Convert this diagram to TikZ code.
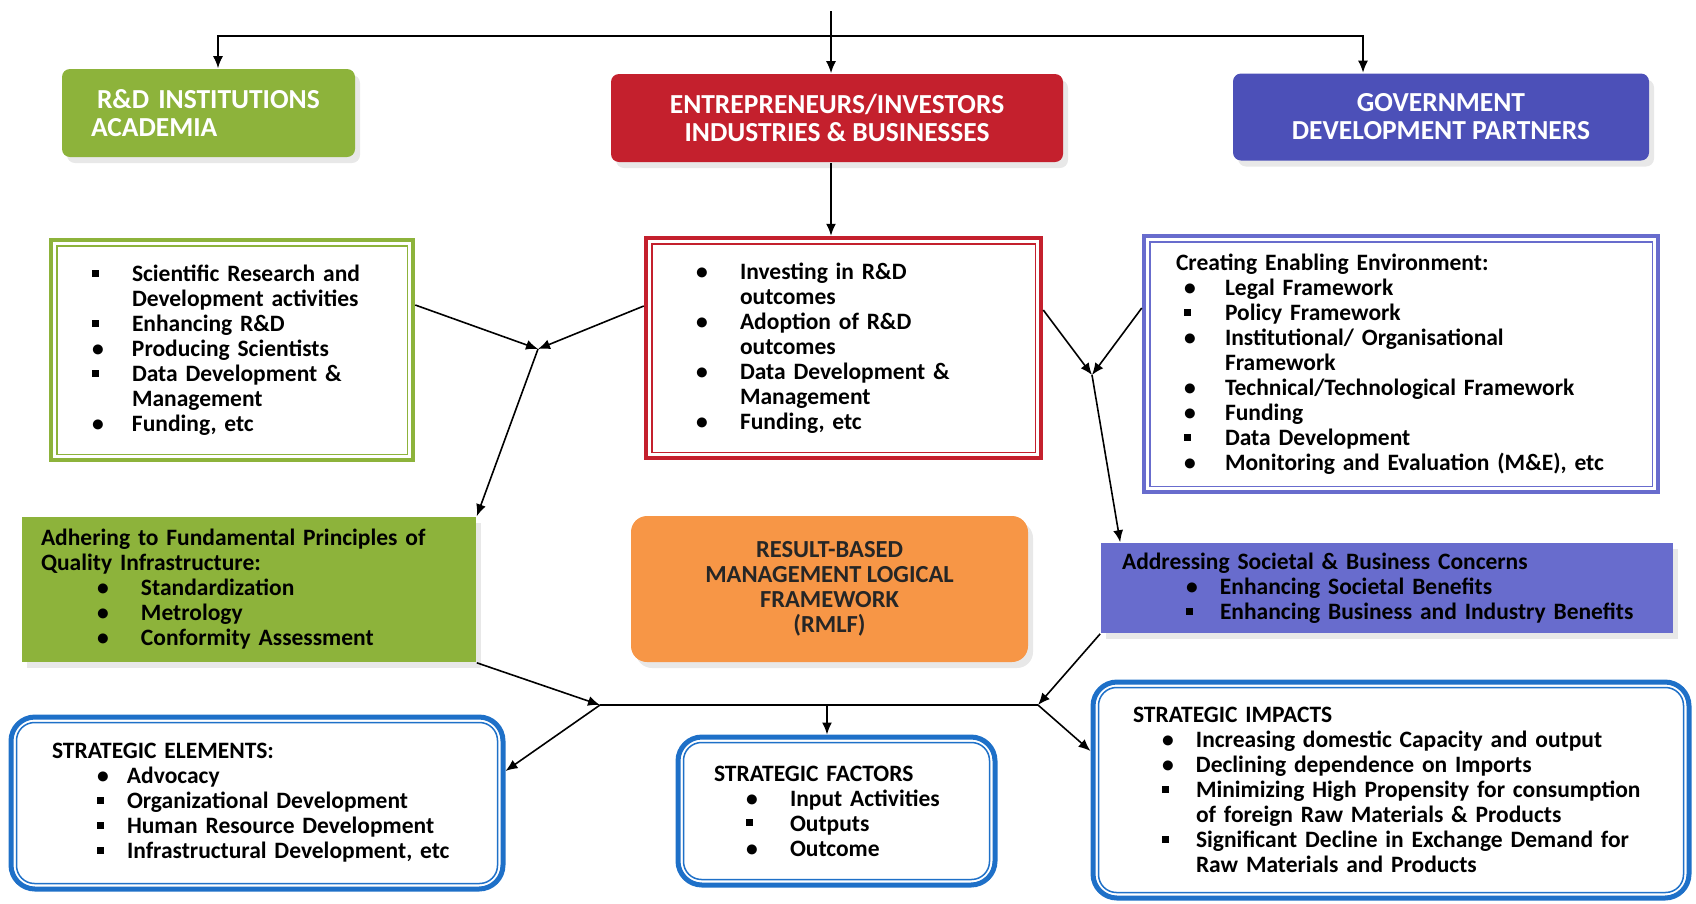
\documentclass[tikz,border=0pt]{standalone}
\usepackage{fontspec}
\setmainfont{Carlito}
\usetikzlibrary{arrows.meta,shadows}
\setlength{\parindent}{0pt}

\definecolor{rdgreen}{RGB}{141,179,59}
\definecolor{entred}{RGB}{196,32,45}
\definecolor{govblue}{RGB}{76,80,184}
\definecolor{socblue}{RGB}{104,108,205}
\definecolor{rbmorange}{RGB}{247,150,70}
\definecolor{stratblue}{RGB}{30,112,200}

\newcommand{\bodyfont}{\fontsize{23.5}{25}\selectfont\bfseries}
\newcommand{\headfont}{\fontsize{27.5}{28}\selectfont\bfseries}
\newcommand{\rmlffont}{\fontsize{24.5}{25}\selectfont\bfseries}
\newlength{\bind}
\newlength{\bgap}
\newcommand{\bsq}{\raisebox{.2em}{\rule{.3em}{.3em}}}
\newcommand{\bci}{\textbullet}
\newcommand{\itm}[2][\bci]{\hspace*{\bind}\makebox[\bgap][l]{#1}\mbox{#2}}

\tikzset{
    shade/.style={drop shadow={shadow xshift=5pt, shadow yshift=-6pt, fill=black!18}},
    headbox/.style={rounded corners=8pt, text=white, font=\headfont, inner sep=0pt, shade},
    listbox/.style={draw=#1, line width=4.5pt, fill=white, align=left, font=\bodyfont, inner ysep=0pt},
    fillbox/.style={fill=#1, align=left, font=\bodyfont, inner ysep=0pt, shade},
    stratbox/.style={draw=stratblue, line width=5pt, rounded corners=24pt, fill=white, align=left, font=\bodyfont, inner ysep=0pt},
    bullets/.style 2 args={execute at begin node={\setlength{\bind}{#1pt}\setlength{\bgap}{#2pt}}},
}

\begin{document}
\begin{tikzpicture}[x=1pt, y=-1pt, >={Latex[length=12pt,width=10pt]}, line width=1.6pt]
\useasboundingbox (0,0) rectangle (1696,903);

% stakeholders
\node (gnhead) [headbox, fill=rdgreen, minimum width=293pt, minimum height=88pt, text width=235pt, align=left] at (208.5,113) {\hspace*{6pt}\mbox{R\&D INSTITUTIONS}\\ACADEMIA};
\node (rdhead) [headbox, fill=entred, minimum width=452pt, minimum height=88pt, align=center] at (837,118) {ENTREPRENEURS/INVESTORS\\INDUSTRIES \& BUSINESSES};
\node (gvhead) [headbox, fill=govblue, minimum width=416pt, minimum height=87pt, align=center] at (1441,117) {GOVERNMENT\\DEVELOPMENT PARTNERS};

% roles
\node (gnlist) [listbox=rdgreen, minimum width=362pt, minimum height=220pt, text width=280pt, inner xsep=41pt, bullets={0}{40}] at (232,350) {\itm[\bsq]{Scientific Research and}\\\itm[]{Development activities}\\\itm[\bsq]{Enhancing R\&D}\\\itm{Producing Scientists}\\\itm[\bsq]{Data Development \&}\\\itm[]{Management}\\\itm{Funding, etc}};
\node (rdlist) [listbox=entred, minimum width=395pt, minimum height=220pt, text width=295pt, inner xsep=50pt, bullets={0}{44}] at (843.5,348) {\itm{Investing in R\&D}\\\itm[]{outcomes}\\\itm{Adoption of R\&D}\\\itm[]{outcomes}\\\itm{Data Development \&}\\\itm[]{Management}\\\itm{Funding, etc}};
\node (gvlist) [listbox=socblue, minimum width=514pt, minimum height=256pt, text width=450pt, inner xsep=32pt, bullets={8}{41}] at (1401,364) {Creating Enabling Environment:\\\itm{Legal Framework}\\\itm[\bsq]{Policy Framework}\\\itm{Institutional/ Organisational}\\\itm[]{Framework}\\\itm{Technical/Technological Framework}\\\itm{Funding}\\\itm[\bsq]{Data Development}\\\itm{Monitoring and Evaluation (M\&E), etc}};

% principles and concerns
\node (adhere) [fillbox=rdgreen, minimum width=454pt, minimum height=145pt, text width=416pt, inner xsep=19pt, bullets={56}{44}] at (249,589.5) {Adhering to Fundamental Principles of\\Quality Infrastructure:\\\itm{Standardization}\\\itm{Metrology}\\\itm{Conformity Assessment}};
\node (rmlf) [fillbox=rbmorange, rounded corners=16pt, minimum width=397pt, minimum height=146pt, align=center, font=\rmlffont, text=black!85] at (829.5,589) {RESULT-BASED\\MANAGEMENT LOGICAL\\FRAMEWORK\\(RMLF)};
\node (address) [fillbox=socblue, minimum width=572pt, minimum height=90pt, text width=530pt, inner xsep=21pt, bullets={64}{34}] at (1387,588) {Addressing Societal \& Business Concerns\\\itm{Enhancing Societal Benefits}\\\itm[\bsq]{Enhancing Business and Industry Benefits}};

% strategic level
\node (elem) [stratbox, minimum width=492pt, minimum height=172pt, text width=410pt, inner xsep=41pt, bullets={45}{30}] at (257,803) {STRATEGIC ELEMENTS:\\\itm{Advocacy}\\\itm[\bsq]{Organizational Development}\\\itm[\bsq]{Human Resource Development}\\\itm[\bsq]{Infrastructural Development, etc}};
\node (factor) [stratbox, minimum width=317pt, minimum height=148pt, text width=245pt, inner xsep=36pt, bullets={32}{44}] at (836.5,811) {STRATEGIC FACTORS\\\itm{Input Activities}\\\itm[\bsq]{Outputs}\\\itm{Outcome}};
\node (impact) [stratbox, minimum width=596pt, minimum height=216pt, text width=516pt, inner xsep=40pt, bullets={29}{34}] at (1391,790) {STRATEGIC IMPACTS\\\itm{Increasing domestic Capacity and output}\\\itm{Declining dependence on Imports}\\\itm[\bsq]{Minimizing High Propensity for consumption}\\\itm[]{of foreign Raw Materials \& Products}\\\itm[\bsq]{Significant Decline in Exchange Demand for}\\\itm[]{Raw Materials and Products}};

% inner frames
\foreach \b/\c in {gnlist/rdgreen, rdlist/entred, gvlist/socblue}
    \draw[\c, line width=1.5pt] ([shift={(8pt,8pt)}]\b.south west) rectangle ([shift={(-8pt,-8pt)}]\b.north east);
\foreach \b in {elem, factor, impact}
    \draw[stratblue, line width=1.5pt, rounded corners=18pt] ([shift={(8pt,8pt)}]\b.south west) rectangle ([shift={(-8pt,-8pt)}]\b.north east);

% connectors
\coordinate (top) at (831,11);
\coordinate (tl) at (218,36);
\coordinate (tr) at (1363,36);
\coordinate (jl) at (538,349);
\coordinate (jr) at (1092,375);
\coordinate (bl) at (600,705);
\coordinate (bm) at (827,705);
\coordinate (br) at (1038,705);

\draw[->] (top) -- (rdhead.north -| top);
\draw[<->] (gnhead.north -| tl) -- (tl) -- (tr) -- (gvhead.north -| tr);
\draw[->] (rdhead.south -| top) -- (rdlist.north -| top);

\draw[->] ([yshift=45pt]gnlist.east) -- (jl);
\draw[->] ([yshift=42pt]rdlist.west) -- (jl);
\draw[->] (jl) -- (adhere.north east);
\draw[->] ([yshift=38pt]rdlist.east) -- (jr);
\draw[->] ([yshift=56pt]gvlist.west) -- (jr);
\draw[->] (jr) -- ([xshift=20pt]address.north west);

\draw[->] (adhere.south east) -- (bl);
\draw[->] (address.south west) -- (br);
\draw (bl) -- (br);
\draw[->] (bl) -- ([yshift=32pt]elem.east);
\draw[->] (bm) -- (factor.north -| bm);
\draw[->] (br) -- ([yshift=39pt]impact.west);

\end{tikzpicture}
\end{document}
